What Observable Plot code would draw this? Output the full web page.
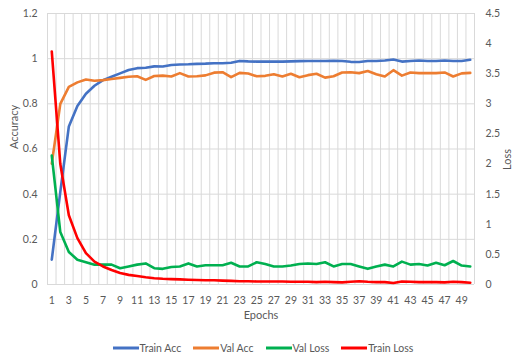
<!DOCTYPE html>
<html>
<head>
<meta charset="utf-8">
<script src="https://cdn.jsdelivr.net/npm/d3@7"></script>
<script src="https://cdn.jsdelivr.net/npm/@observablehq/plot@0.6"></script>
<style>
  html, body { margin: 0; padding: 0; background: #fff; }
  #chart { width: 514px; }
  .legend { display: flex; justify-content: center; align-items: center; height: 22px;
    font-family: Lato, "Open Sans", sans-serif; font-size: 10.5px; color: #595959; padding-left: 12px; box-sizing: border-box; width: 514px; }
  .legend .item { display: flex; align-items: center; margin: 0 6px; }
  .legend svg { margin-right: 1px; }
</style>
</head>
<body>
<div id="chart"></div>
<script>
const epochs = d3.range(1, 51);

const trainAcc = [0.11, 0.41, 0.70, 0.79, 0.845, 0.88, 0.905, 0.92, 0.935, 0.95,
  0.958, 0.96, 0.966, 0.965, 0.972, 0.974, 0.975, 0.977, 0.978, 0.98,
  0.98, 0.982, 0.99, 0.988, 0.987, 0.987, 0.987, 0.987, 0.988, 0.989,
  0.99, 0.99, 0.99, 0.991, 0.99, 0.986, 0.985, 0.99, 0.99, 0.992,
  0.996, 0.987, 0.99, 0.992, 0.99, 0.99, 0.992, 0.99, 0.99, 0.995];

const valAcc = [0.535, 0.80, 0.875, 0.895, 0.908, 0.902, 0.905, 0.91, 0.915, 0.92,
  0.922, 0.906, 0.923, 0.925, 0.921, 0.936, 0.921, 0.922, 0.926, 0.938,
  0.94, 0.918, 0.937, 0.934, 0.922, 0.924, 0.931, 0.921, 0.933, 0.918,
  0.927, 0.933, 0.916, 0.922, 0.939, 0.94, 0.936, 0.945, 0.931, 0.921,
  0.949, 0.925, 0.939, 0.936, 0.936, 0.936, 0.939, 0.921, 0.935, 0.937];

const valLoss = [2.14, 0.87, 0.54, 0.41, 0.37, 0.33, 0.33, 0.33, 0.27, 0.30,
  0.33, 0.35, 0.27, 0.26, 0.29, 0.30, 0.35, 0.30, 0.32, 0.32,
  0.32, 0.36, 0.30, 0.30, 0.37, 0.34, 0.30, 0.30, 0.315, 0.34,
  0.35, 0.34, 0.37, 0.30, 0.34, 0.34, 0.30, 0.26, 0.30, 0.33,
  0.30, 0.38, 0.33, 0.34, 0.315, 0.36, 0.32, 0.39, 0.315, 0.30];

const trainLoss = [3.87, 2.0, 1.15, 0.77, 0.52, 0.38, 0.30, 0.24, 0.19, 0.16,
  0.14, 0.12, 0.105, 0.095, 0.09, 0.085, 0.08, 0.075, 0.07, 0.07,
  0.065, 0.06, 0.055, 0.055, 0.05, 0.05, 0.05, 0.05, 0.045, 0.045,
  0.045, 0.04, 0.045, 0.04, 0.035, 0.045, 0.055, 0.045, 0.04, 0.04,
  0.025, 0.05, 0.045, 0.04, 0.04, 0.04, 0.035, 0.045, 0.04, 0.03];

const accTicks = [0, 0.2, 0.4, 0.6, 0.8, 1, 1.2];
const lossTicks = [0, 0.5, 1, 1.5, 2, 2.5, 3, 3.5, 4, 4.5];
const xTicks = d3.range(1, 50, 2);

const seriesNames = ["Train Acc", "Val Acc", "Val Loss", "Train Loss"];
const seriesColors = ["#4472C4", "#ED7D31", "#00B050", "#FF0000"];

const accMax = 1.2, lossMax = 4.5;
const k = accMax / lossMax;

const rows = [];
const seriesValues = [trainAcc, valAcc, valLoss, trainLoss];
const seriesScale = [1, 1, k, k];
seriesNames.forEach((name, s) => {
  epochs.forEach((e, i) => {
    rows.push({epoch: e, series: name, v: seriesValues[s][i] * seriesScale[s]});
  });
});

const gridX = d3.range(0.5, epochs.length + 1, 1);
const font = "Lato, 'Open Sans', sans-serif";
const grey = "#595959";

const chart = Plot.plot({
  width: 514,
  height: 337,
  marginLeft: 47,
  marginRight: 40,
  marginTop: 13,
  marginBottom: 53,
  style: {fontFamily: font, fontSize: "10.5px", color: grey, background: "#fff"},
  x: {domain: [0.5, epochs.length + 0.5]},
  y: {domain: [0, accMax]},
  color: {domain: seriesNames, range: seriesColors},
  marks: [
    Plot.ruleY(accTicks, {stroke: "#d9d9d9", strokeWidth: 1}),
    Plot.ruleX(gridX, {stroke: "#d9d9d9", strokeWidth: 1}),
    Plot.axisX(xTicks, {tickSize: 0, tickPadding: 12, label: null, tickFormat: d => d, fill: grey}),
    Plot.axisY(accTicks, {anchor: "left", tickSize: 0, tickPadding: 10, label: null, tickFormat: d => String(d), fill: grey}),
    Plot.axisY(lossTicks.map(v => v * k), {anchor: "right", tickSize: 0, tickPadding: 11, label: null,
      tickFormat: d => String(Math.round(d / k * 10) / 10), fill: grey}),
    Plot.line(rows, {x: "epoch", y: "v", z: "series", stroke: "series", strokeWidth: 2.6}),
    Plot.text(["Epochs"], {frameAnchor: "bottom", dy: 34, fill: grey, fontSize: 11}),
    Plot.text(["Accuracy"], {frameAnchor: "left", dx: -33, rotate: -90, fill: grey, fontSize: 11}),
    Plot.text(["Loss"], {frameAnchor: "right", dx: 33, rotate: -90, fill: grey, fontSize: 11})
  ]
});
document.getElementById("chart").appendChild(chart);

const legend = document.createElement("div");
legend.className = "legend";
seriesNames.forEach((name, i) => {
  const item = document.createElement("div");
  item.className = "item";
  item.innerHTML = `<svg width="26" height="6"><line x1="0" y1="3" x2="26" y2="3" stroke="${seriesColors[i]}" stroke-width="3"/></svg><span>${name}</span>`;
  legend.appendChild(item);
});
document.body.appendChild(legend);
</script>
</body>
</html>
